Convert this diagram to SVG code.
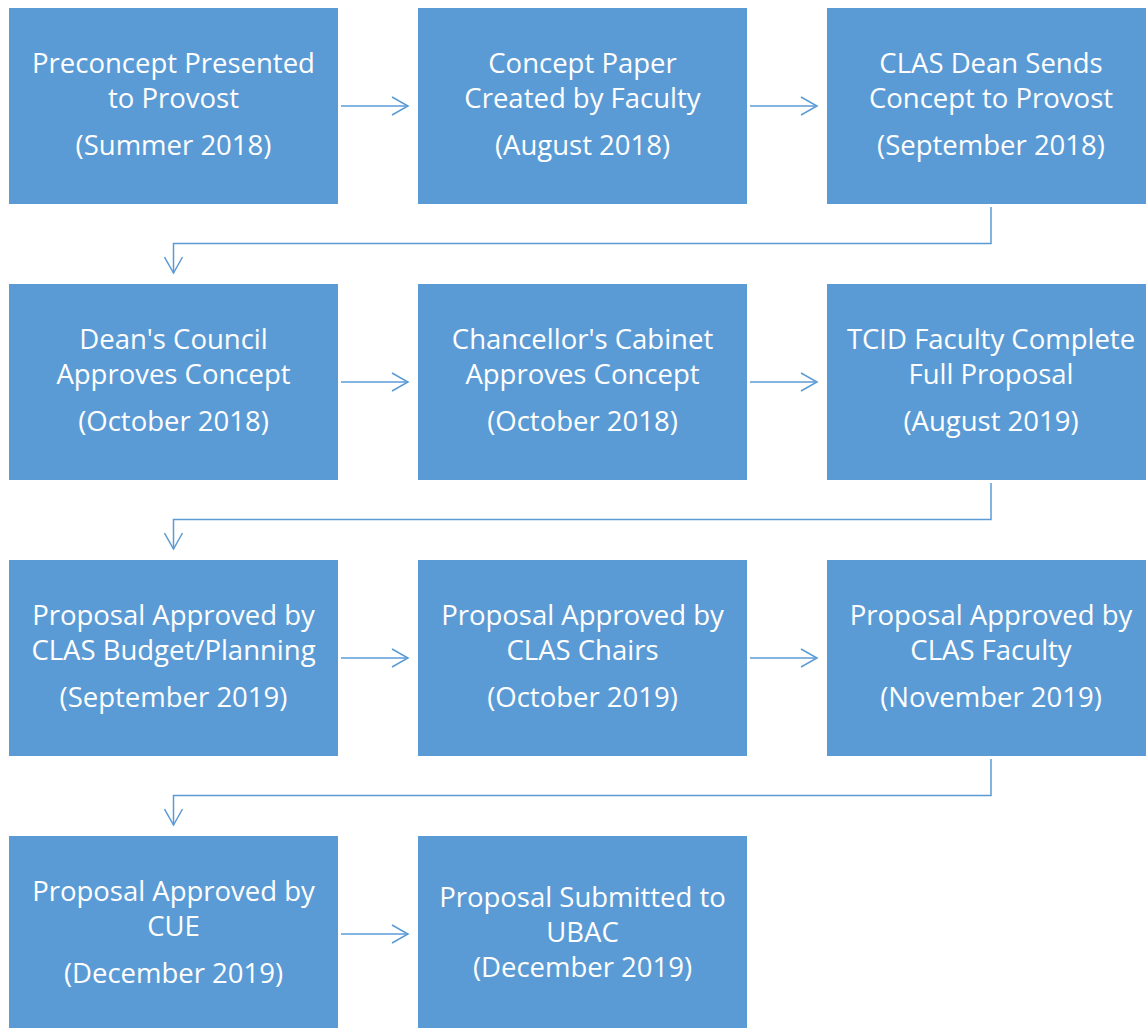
<svg xmlns="http://www.w3.org/2000/svg" width="1146" height="1028" viewBox="0 0 1146 1028">
<defs>
<style>
.box{fill:#5b9bd5;stroke:#ffffff;stroke-width:1}
.t{font-family:"Open Sans","Noto Sans",sans-serif;font-size:27.5px;fill:#ffffff;text-anchor:middle}
.c{fill:none;stroke:#5b9bd5;stroke-width:1.5}
</style>
<marker id="ah" viewBox="0 0 20 20" refX="18" refY="10" markerWidth="20" markerHeight="20" markerUnits="userSpaceOnUse" orient="auto">
<path d="M2,1 L18,10 L2,19" fill="none" stroke="#5b9bd5" stroke-width="1.5"/>
</marker>
</defs>
<rect width="1146" height="1028" fill="#ffffff"/>
<g id="connectors">
<line class="c" x1="341" y1="106" x2="408" y2="106" marker-end="url(#ah)"/>
<line class="c" x1="750" y1="106" x2="817" y2="106" marker-end="url(#ah)"/>
<polyline class="c" points="991,207 991,243.5 173.5,243.5 173.5,273" marker-end="url(#ah)"/>
<line class="c" x1="341" y1="382" x2="408" y2="382" marker-end="url(#ah)"/>
<line class="c" x1="750" y1="382" x2="817" y2="382" marker-end="url(#ah)"/>
<polyline class="c" points="991,483 991,519.5 173.5,519.5 173.5,549" marker-end="url(#ah)"/>
<line class="c" x1="341" y1="658" x2="408" y2="658" marker-end="url(#ah)"/>
<line class="c" x1="750" y1="658" x2="817" y2="658" marker-end="url(#ah)"/>
<polyline class="c" points="991,759 991,795.5 173.5,795.5 173.5,825" marker-end="url(#ah)"/>
<line class="c" x1="341" y1="934" x2="408" y2="934" marker-end="url(#ah)"/>
</g>
<g id="n1"><rect class="box" x="8.5" y="7.5" width="330" height="197"/>
<text class="t" x="173.5" y="73">Preconcept Presented</text><text class="t" x="173.5" y="108">to Provost</text><text class="t" x="173.5" y="155">(Summer 2018)</text></g>
<g id="n2"><rect class="box" x="417.5" y="7.5" width="330" height="197"/>
<text class="t" x="582.5" y="73">Concept Paper</text><text class="t" x="582.5" y="108">Created by Faculty</text><text class="t" x="582.5" y="155">(August 2018)</text></g>
<g id="n3"><rect class="box" x="826.5" y="7.5" width="330" height="197"/>
<text class="t" x="991" y="73">CLAS Dean Sends</text><text class="t" x="991" y="108">Concept to Provost</text><text class="t" x="991" y="155">(September 2018)</text></g>
<g id="n4"><rect class="box" x="8.5" y="283.5" width="330" height="197"/>
<text class="t" x="173.5" y="349">Dean's Council</text><text class="t" x="173.5" y="384">Approves Concept</text><text class="t" x="173.5" y="431">(October 2018)</text></g>
<g id="n5"><rect class="box" x="417.5" y="283.5" width="330" height="197"/>
<text class="t" x="582.5" y="349">Chancellor's Cabinet</text><text class="t" x="582.5" y="384">Approves Concept</text><text class="t" x="582.5" y="431">(October 2018)</text></g>
<g id="n6"><rect class="box" x="826.5" y="283.5" width="330" height="197"/>
<text class="t" x="991" y="349">TCID Faculty Complete</text><text class="t" x="991" y="384">Full Proposal</text><text class="t" x="991" y="431">(August 2019)</text></g>
<g id="n7"><rect class="box" x="8.5" y="559.5" width="330" height="197"/>
<text class="t" x="173.5" y="625">Proposal Approved by</text><text class="t" x="173.5" y="660">CLAS Budget/Planning</text><text class="t" x="173.5" y="707">(September 2019)</text></g>
<g id="n8"><rect class="box" x="417.5" y="559.5" width="330" height="197"/>
<text class="t" x="582.5" y="625">Proposal Approved by</text><text class="t" x="582.5" y="660">CLAS Chairs</text><text class="t" x="582.5" y="707">(October 2019)</text></g>
<g id="n9"><rect class="box" x="826.5" y="559.5" width="330" height="197"/>
<text class="t" x="991" y="625">Proposal Approved by</text><text class="t" x="991" y="660">CLAS Faculty</text><text class="t" x="991" y="707">(November 2019)</text></g>
<g id="n10"><rect class="box" x="8.5" y="835.5" width="330" height="197"/>
<text class="t" x="173.5" y="901">Proposal Approved by</text><text class="t" x="173.5" y="936">CUE</text><text class="t" x="173.5" y="983">(December 2019)</text></g>
<g id="n11"><rect class="box" x="417.5" y="835.5" width="330" height="197"/>
<text class="t" x="582.5" y="907">Proposal Submitted to</text><text class="t" x="582.5" y="942">UBAC</text><text class="t" x="582.5" y="977">(December 2019)</text></g>
</svg>
